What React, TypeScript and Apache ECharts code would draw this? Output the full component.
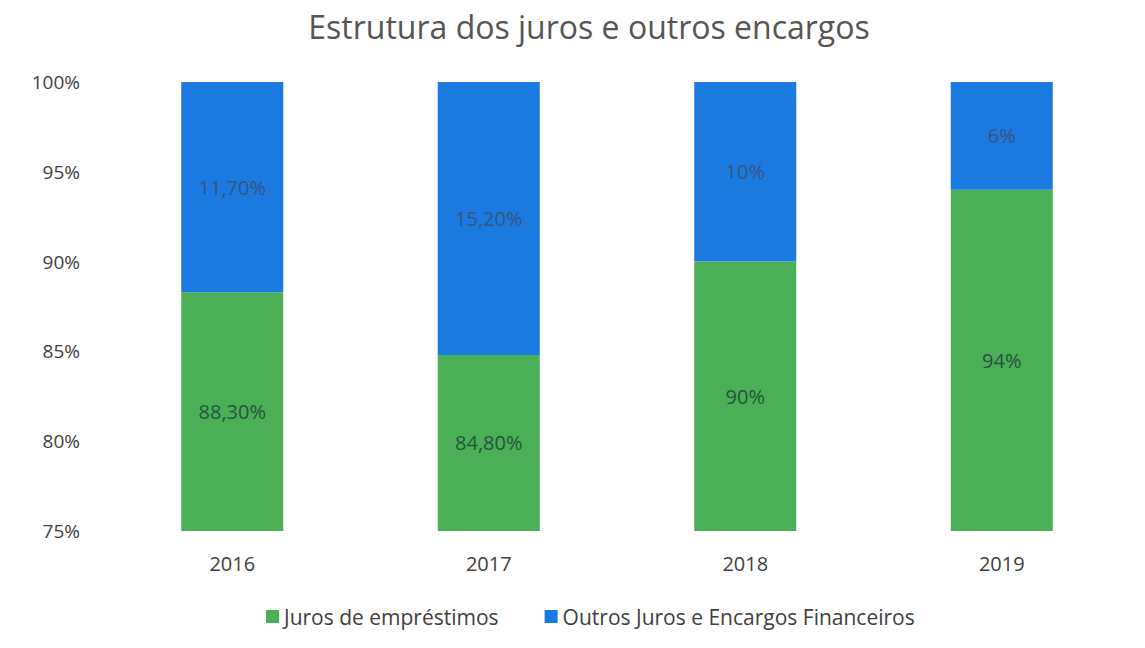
import React, { useEffect, useRef } from "react";
import * as echarts from "echarts";

const categories = ["2016", "2017", "2018", "2019"];
const jurosEmprestimos = [88.3, 84.8, 90, 94];
const outrosJuros = [11.7, 15.2, 10, 6];
const jurosLabels = ["88,30%", "84,80%", "90%", "94%"];
const outrosLabels = ["11,70%", "15,20%", "10%", "6%"];
const yTicks = [75, 80, 85, 90, 95, 100];

const FONT = "'Open Sans', 'Liberation Sans', sans-serif";

export default function App() {
  const ref = useRef<HTMLDivElement>(null);
  useEffect(() => {
    if (!ref.current) return;
    const chart = echarts.init(ref.current, undefined, { renderer: "svg" });
    chart.setOption({
      animation: false,
      backgroundColor: "#ffffff",
      title: {
        text: "Estrutura dos juros e outros encargos",
        left: 584,
        textAlign: "center",
        top: 5,
        textStyle: { fontFamily: FONT, fontSize: 32, fontWeight: "normal", color: "#555555" },
      },
      legend: {
        bottom: 16,
        left: 261,
        itemWidth: 13,
        itemHeight: 13,
        itemGap: 46,
        icon: "rect",
        textStyle: { fontFamily: FONT, fontSize: 21, color: "#404040" },
        data: ["Juros de empréstimos", "Outros Juros e Encargos Financeiros"],
      },
      grid: { left: 104, right: 15, top: 82, bottom: 117, containLabel: false },
      xAxis: {
        type: "category",
        data: categories,
        axisLine: { show: false },
        axisTick: { show: false },
        axisLabel: { fontFamily: FONT, fontSize: 20, color: "#404040", margin: 22 },
      },
      yAxis: {
        type: "value",
        min: yTicks[0],
        max: yTicks[yTicks.length - 1],
        interval: 5,
        splitLine: { show: false },
        axisLine: { show: false },
        axisTick: { show: false },
        axisLabel: {
          fontFamily: FONT,
          fontSize: 19,
          color: "#404040",
          margin: 24,
          formatter: (v: number) => v + "%",
        },
      },
      series: [
        {
          name: "Juros de empréstimos",
          type: "bar",
          stack: "total",
          barWidth: 102,
          data: jurosEmprestimos,
          itemStyle: { color: "#4aaf57" },
          label: {
            show: true,
            position: "inside",
            fontFamily: FONT,
            fontSize: 20,
            color: "#24553a",
            formatter: (p: any) => jurosLabels[p.dataIndex],
          },
        },
        {
          name: "Outros Juros e Encargos Financeiros",
          type: "bar",
          stack: "total",
          barWidth: 102,
          data: outrosJuros,
          itemStyle: { color: "#1a7ae0" },
          label: {
            show: true,
            position: "inside",
            fontFamily: FONT,
            fontSize: 20,
            color: "#36557f",
            formatter: (p: any) => outrosLabels[p.dataIndex],
          },
        },
      ],
    });
    return () => chart.dispose();
  }, []);
  return (
    <div
      ref={ref}
      style={{ position: "fixed", left: 0, top: 0, width: 1145, height: 648 }}
    />
  );
}
